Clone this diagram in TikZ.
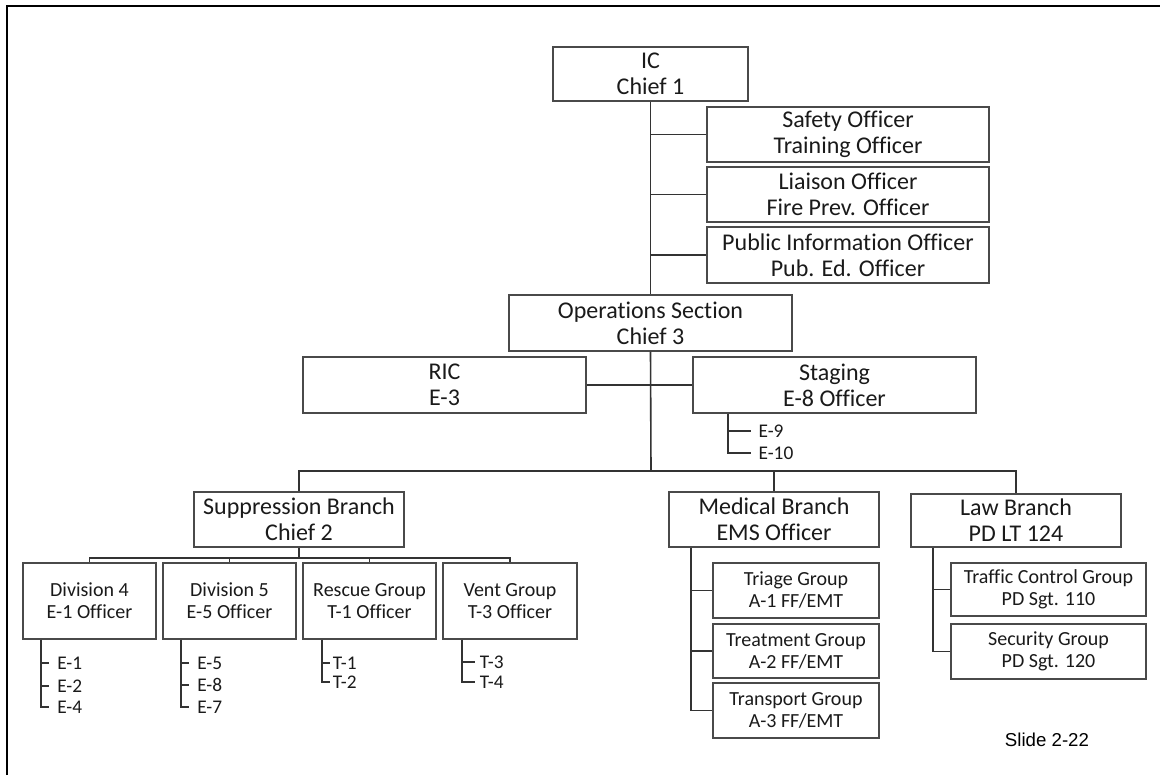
\documentclass[tikz,border=0pt]{standalone}
\usepackage{fontspec}
\setmainfont{Carlito}[Ligatures=NoCommon]
\newfontfamily\arialf{Liberation Sans}
\usetikzlibrary{calc}
\definecolor{boxc}{HTML}{4A4A4A}
\definecolor{linec}{HTML}{333333}
\definecolor{txtc}{HTML}{1A1A1A}
\tikzset{
  box/.style={draw=boxc, line width=1.1pt, inner sep=0pt, align=center, text=txtc},
  bigbox/.style={box, font=\fontsize{18}{19.5}\selectfont},
  smallbox/.style={box, font=\fontsize{15}{16.5}\selectfont},
  conn/.style={draw=linec, line width=1.2pt},
  sublabel/.style={anchor=west, inner ysep=0pt, inner xsep=6pt, text=txtc, font=\fontsize{14.5}{16}\selectfont},
}
% box from its pixel corners: style, name, x1, y1, x2, y2, text
\newcommand\orgbox[7]{\node[#1, minimum width={(#5-#3)*0.75pt}, minimum height={(#6-#4)*0.75pt}] (#2) at ({(#3+#5)/2},{(#4+#6)/2}) {#7};}
\begin{document}
\begin{tikzpicture}[x=0.75pt,y=-0.75pt]
\useasboundingbox (0,0) rectangle (1160,775);
\fill[white] (0,0) rectangle (1160,775);
\draw[black, line width=1.8pt] (7,775) -- (7,6) -- (1160,6);

% top level
\orgbox{bigbox}{ic}{553}{47}{748}{101}{IC\\Chief 1}
\orgbox{bigbox}{safety}{707}{107}{989}{162}{Safety Officer\\Training Officer}
\orgbox{bigbox}{liaison}{707}{167}{989}{222}{Liaison Officer\\Fire Prev. Officer}
\orgbox{bigbox}{pio}{707}{227}{989}{283}{Public Information Officer\\Pub. Ed. Officer}
\orgbox{bigbox}{ops}{509}{295}{792}{351}{Operations Section\\Chief 3}
\orgbox{bigbox}{ric}{303}{357}{586}{413}{RIC\\E-3}
\orgbox{bigbox}{staging}{693}{357}{976}{413}{Staging\\E-8 Officer}

% branches
\orgbox{bigbox}{supp}{194}{492}{404}{547}{Suppression Branch\\Chief 2}
\orgbox{bigbox}{med}{669}{492}{879}{547}{Medical Branch\\EMS Officer}
\orgbox{bigbox}{law}{911}{494}{1121}{547}{Law Branch\\PD LT 124}

% divisions / groups
\orgbox{smallbox}{div4}{23}{563}{156}{639}{Division 4\\E-1 Officer}
\orgbox{smallbox}{div5}{163}{563}{296}{639}{Division 5\\E-5 Officer}
\orgbox{smallbox}{rescue}{303}{563}{436}{639}{Rescue Group\\T-1 Officer}
\orgbox{smallbox}{vent}{443}{563}{577}{639}{Vent Group\\T-3 Officer}

\orgbox{smallbox}{triage}{713}{563}{879}{618}{Triage Group\\A-1 FF/EMT}
\orgbox{smallbox}{treat}{713}{624}{879}{678}{Treatment Group\\A-2 FF/EMT}
\orgbox{smallbox}{transp}{713}{683}{879}{738}{Transport Group\\A-3 FF/EMT}

\orgbox{smallbox}{traffic}{951}{563}{1146}{616}{Traffic Control Group\\PD Sgt. 110}
\orgbox{smallbox}{security}{951}{624}{1146}{679}{Security Group\\PD Sgt. 120}

% unit labels
\node[sublabel, inner xsep=5.5pt] (e9) at (751,431) {E-9};
\node[sublabel, inner xsep=5.5pt] (e10) at (751,453) {E-10};

\node[sublabel] (d4a) at (49,663) {E-1};
\node[sublabel] (d4b) at (49,686) {E-2};
\node[sublabel] (d4c) at (49,707) {E-4};
\node[sublabel] (d5a) at (189,663) {E-5};
\node[sublabel] (d5b) at (189,685) {E-8};
\node[sublabel] (d5c) at (189,707) {E-7};
\node[sublabel, inner xsep=2pt] (rga) at (330,663) {T-1};
\node[sublabel, inner xsep=2pt] (rgb) at (330,682) {T-2};
\node[sublabel, inner xsep=3.5pt] (vga) at (475,662) {T-3};
\node[sublabel, inner xsep=3.5pt] (vgb) at (475,682) {T-4};

\node[font=\arialf\fontsize{14}{16}\selectfont] (slide) at (1047,740) {Slide 2-22};

% connectors: command staff
\draw[conn] (ic.south) -- (ops.north);
\draw[conn] (ic.south) |- (safety.west);
\draw[conn] (ic.south) |- (liaison.west);
\draw[conn] (ic.south) |- (pio.west);

% operations
\coordinate (bus) at (651,471);
\draw[conn] (ops.south) -- (bus);
\draw[conn] (ric.east) -- (staging.west);
\draw[conn] (bus) -| (supp.north);
\draw[conn] (bus) -| (law.north);
\draw[conn] (bus -| med.north) -- (med.north);

% staging units
\coordinate (stg) at ($(staging.south west)+(36,0)$);
\draw[conn] (stg) |- (e9.west);
\draw[conn] (stg) |- (e10.west);

% suppression
\coordinate (sbus) at (299,558);
\draw[conn] (supp.south) -- (sbus);
\draw[conn] (sbus) -| (div4.north);
\draw[conn] (sbus) -| (vent.north);
\draw[conn] (sbus -| div5.north) -- (div5.north);
\draw[conn] (sbus -| rescue.north) -- (rescue.north);

\coordinate (b4) at ($(div4.south west)+(19,0)$);
\draw[conn] (b4) |- (d4a.west);
\draw[conn] (b4) |- (d4b.west);
\draw[conn] (b4) |- (d4c.west);
\coordinate (b5) at ($(div5.south west)+(19,0)$);
\draw[conn] (b5) |- (d5a.west);
\draw[conn] (b5) |- (d5b.west);
\draw[conn] (b5) |- (d5c.west);
\coordinate (br) at ($(rescue.south west)+(20,0)$);
\draw[conn] (br) |- (rga.west);
\draw[conn] (br) |- (rgb.west);
\coordinate (bv) at ($(vent.south west)+(20,0)$);
\draw[conn] (bv) |- (vga.west);
\draw[conn] (bv) |- (vgb.west);

% medical
\coordinate (bm) at ($(med.south west)+(23,0)$);
\draw[conn] (bm) |- (triage.west);
\draw[conn] (bm) |- (treat.west);
\draw[conn] (bm) |- (transp.west);

% law
\coordinate (bl) at ($(law.south west)+(23,0)$);
\draw[conn] (bl) |- (traffic.west);
\draw[conn] (bl) |- (security.west);
\end{tikzpicture}
\end{document}
